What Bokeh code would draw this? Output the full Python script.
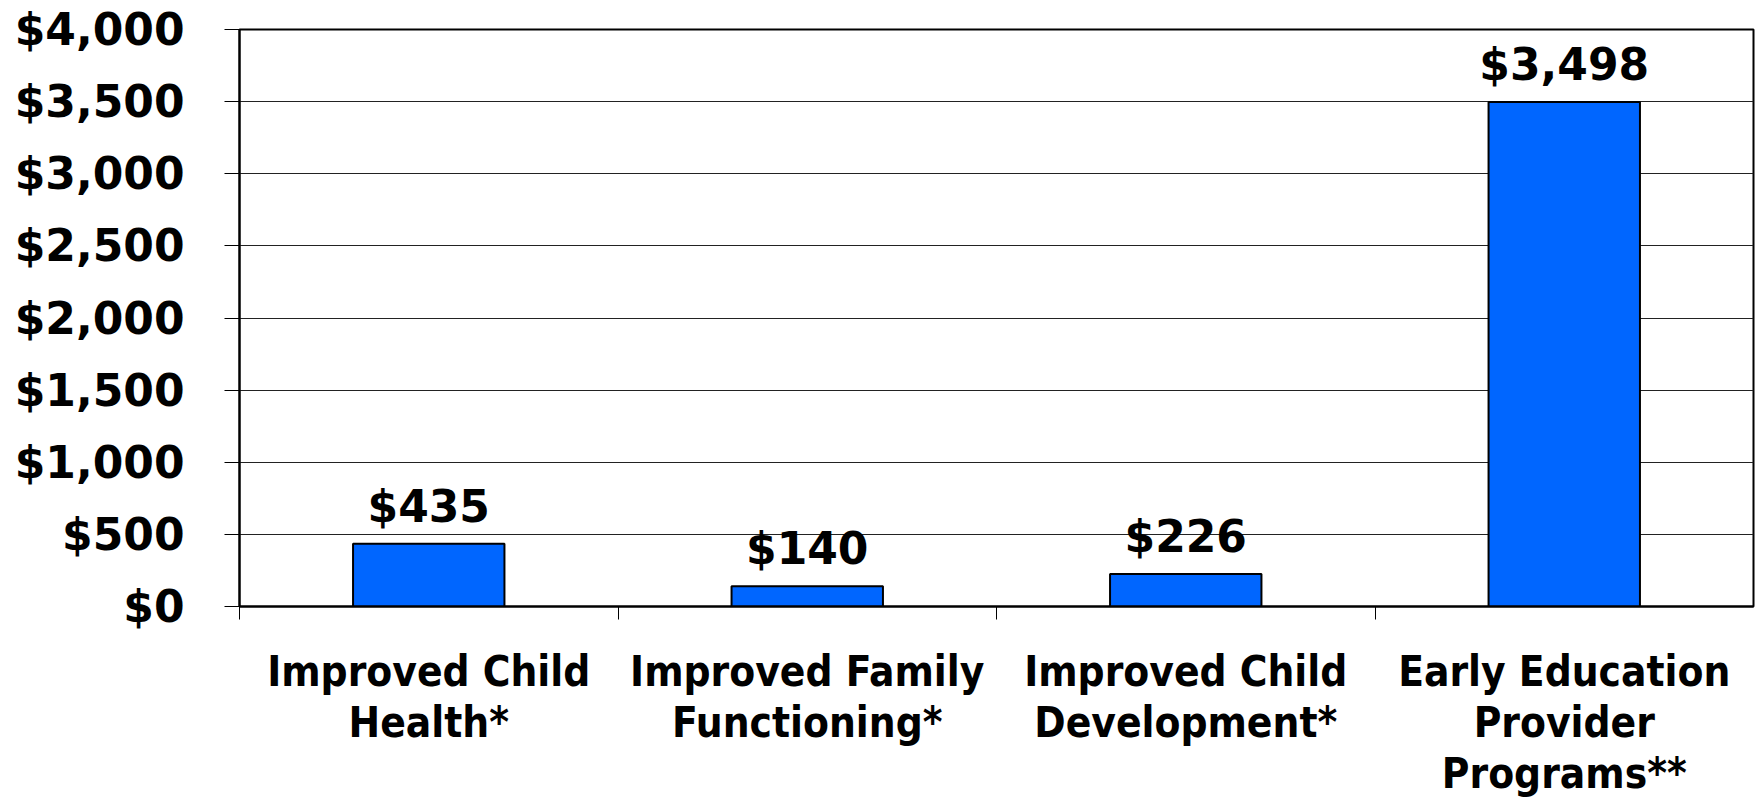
from bokeh.plotting import figure
from bokeh.models import (Range1d, FixedTicker, LinearAxis, NumeralTickFormatter,
                          ColumnDataSource, LabelSet)
from bokeh.embed import file_html
from bokeh.resources import INLINE
from bokeh.core.properties import value

categories = ["Improved Child\nHealth*", "Improved Family\nFunctioning*",
              "Improved Child\nDevelopment*", "Early Education\nProvider\nPrograms**"]
values = [435, 140, 226, 3498]
value_labels = ["$435", "$140", "$226", "$3,498"]
y_ticks = [0, 500, 1000, 1500, 2000, 2500, 3000, 3500, 4000]

FONT = "DejaVu Sans"
FONT_X = "DejaVu Sans Condensed"

centers = [i + 0.5 for i in range(len(categories))]
src = ColumnDataSource(dict(x=centers, top=values, lab=value_labels))

p = figure(width=1758, height=801, output_backend="svg", toolbar_location=None,
           x_range=Range1d(0, len(categories)), y_range=Range1d(0, 4000),
           min_border_left=239, min_border_right=5, min_border_top=29, min_border_bottom=0)

p.vbar(x="x", top="top", width=0.4, bottom=0, source=src,
       fill_color="#0066FF", line_color="black", line_width=2)

labels = LabelSet(x="x", y="top", text="lab", source=src, text_align="center",
                  text_baseline="alphabetic", y_offset=22, text_font=value(FONT),
                  text_font_style="bold", text_font_size="44px", text_color="black")
p.add_layout(labels)

# y axis
p.yaxis.ticker = FixedTicker(ticks=y_ticks)
p.yaxis.formatter = NumeralTickFormatter(format="$0,0")
p.yaxis.major_label_text_font = FONT
p.yaxis.major_label_text_font_style = "bold"
p.yaxis.major_label_text_font_size = "44px"
p.yaxis.major_label_text_color = "black"
p.yaxis.major_tick_in = 0
p.yaxis.major_tick_out = 15
p.yaxis.minor_tick_line_color = None
p.yaxis.major_label_standoff = 40
p.yaxis.axis_line_width = 2
p.yaxis.axis_line_color = "black"
p.yaxis.major_tick_line_color = "black"

# x axis: boundary ticks only
p.xaxis.ticker = FixedTicker(ticks=[0, 1, 2, 3])
p.xaxis.major_label_overrides = {0: "", 1: "", 2: "", 3: ""}
p.xaxis.major_label_text_font_size = "1px"
p.xaxis.major_label_standoff = 0
p.xaxis.major_tick_in = 0
p.xaxis.major_tick_out = 13
p.xaxis.minor_tick_line_color = None
p.xaxis.axis_line_width = 2
p.xaxis.axis_line_color = "black"
p.xaxis.major_tick_line_color = "black"

# category labels axis
lab_axis = LinearAxis(ticker=FixedTicker(ticks=centers),
                      major_label_overrides={c: t for c, t in zip(centers, categories)},
                      axis_line_color=None, major_tick_line_color=None,
                      minor_tick_line_color=None, major_label_standoff=21,
                      major_label_text_font=FONT_X, major_label_text_font_style="bold",
                      major_label_text_font_size="42px", major_label_text_color="black",
                      major_label_text_line_height=1.05)
p.add_layout(lab_axis, "below")

p.xgrid.grid_line_color = None
p.ygrid.ticker = FixedTicker(ticks=y_ticks)
p.ygrid.grid_line_color = "#222222"
p.ygrid.grid_line_width = 1

p.outline_line_color = "black"
p.outline_line_width = 2
p.background_fill_color = "white"
p.border_fill_color = "white"

open("out.html", "w").write(file_html(p, INLINE))
